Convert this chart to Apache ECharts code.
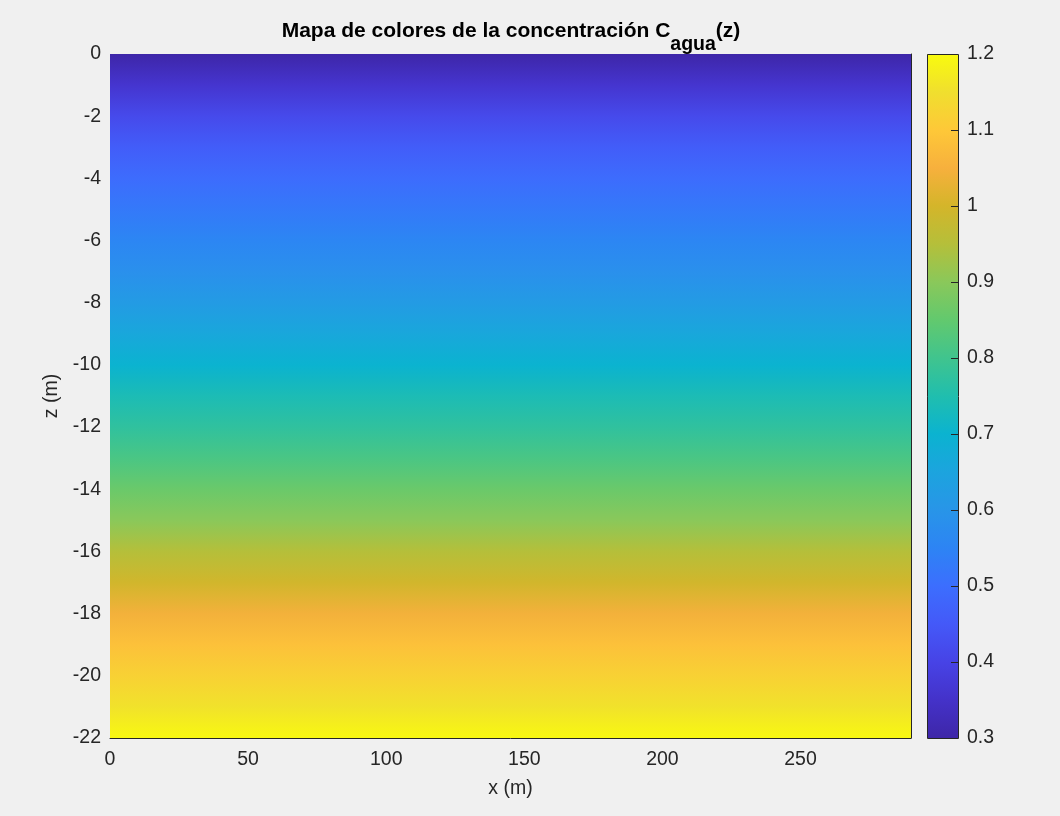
<!DOCTYPE html>
<html>
<head>
<meta charset="utf-8">
<script src="https://cdn.jsdelivr.net/npm/echarts@6/dist/echarts.min.js"></script>
<style>
html,body{margin:0;padding:0;background:#f0f0f0;}
#chart{width:1060px;height:816px;}
</style>
</head>
<body>
<div id="chart"></div>
<script>
// ---- data ----
const xRange = [0, 290];
const zRange = [-22, 0];
const xTickInterval = 50;
const zTickInterval = 2;
const cRange = [0.3, 1.2];
const cTickInterval = 0.1;
const cTicks = [0.4, 0.5, 0.6, 0.7, 0.8, 0.9, 1.0, 1.1];
// concentration profile (depth z in m -> C_agua)
const zDepth = [0, -1, -2, -3, -4, -5, -6, -7, -8, -9, -10, -10.5, -11, -12, -13, -14, -15, -16, -17, -18, -19, -20, -21, -22];
const cConc  = [0.30, 0.36, 0.415, 0.46, 0.495, 0.525, 0.555, 0.585, 0.62, 0.66, 0.70, 0.72, 0.74, 0.775, 0.815, 0.86, 0.90, 0.95, 0.995, 1.045, 1.085, 1.12, 1.155, 1.195];
// parula-like colormap, evenly spaced from cRange[0] to cRange[1]
const cmap = ['#3E26A8','#4432C9','#4743E6','#4459F8','#3C6EFE','#2D84F4','#2895E8','#1CA4DE','#0BB3D0','#20BEAE','#40C48E','#62C96E','#8AC85A','#B5BF3A','#D4B52A','#F7B03D','#FEC838','#F0DF2E','#F9FB0E'];

function hex2rgb(h){return [parseInt(h.substr(1,2),16),parseInt(h.substr(3,2),16),parseInt(h.substr(5,2),16)];}
function colorFor(v){
  let t = (v - cRange[0]) / (cRange[1] - cRange[0]);
  t = Math.max(0, Math.min(1, t));
  const p = t * (cmap.length - 1);
  const i = Math.min(cmap.length - 2, Math.floor(p));
  const f = p - i;
  const a = hex2rgb(cmap[i]), b = hex2rgb(cmap[i+1]);
  return 'rgb(' + a.map((x,k)=>Math.round(x + (b[k]-x)*f)).join(',') + ')';
}

const FONT = '"Liberation Sans", Arial, Helvetica, sans-serif';
const FS = 19.5;
const INK = '#262626';
const chart = echarts.init(document.getElementById('chart'), null, {renderer:'canvas'});

const option = {
  backgroundColor: '#f0f0f0',
  animation: false,
  textStyle: {fontFamily: FONT},
  graphic: [{
    type: 'text', x: 511, y: 31, z: 10,
    style: {
      text: '{t|Mapa de colores de la concentración C}{s|agua}{t|(z)}',
      align: 'center', verticalAlign: 'middle',
      rich: {
        t: {fontFamily: FONT, fontSize: 21, fontWeight: 'bold', fill: '#000'},
        s: {fontFamily: FONT, fontSize: 19.5, fontWeight: 'bold', fill: '#000', padding: [28,0,0,0]}
      }
    }
  }],
  grid: [
    {left: 110, right: 149, top: 54, bottom: 78, show: false},
    {left: 927, right: 102, top: 54, bottom: 78, show: false}
  ],
  xAxis: [
    {gridIndex: 0, type: 'value', min: xRange[0], max: xRange[1], interval: xTickInterval,
     name: 'x (m)', nameLocation: 'middle', nameGap: 41,
     nameTextStyle: {fontSize: FS, color: INK, fontFamily: FONT},
     axisLine: {show: true, onZero: false, lineStyle: {color: INK, width: 1}},
     axisTick: {show: false}, splitLine: {show: false},
     axisLabel: {fontSize: FS, color: INK, margin: 12, fontFamily: FONT,
       showMaxLabel: false}},
    {gridIndex: 1, type: 'value', min: 0, max: 1, show: false}
  ],
  yAxis: [
    {gridIndex: 0, type: 'value', min: zRange[0], max: zRange[1], interval: zTickInterval,
     name: 'z (m)', nameLocation: 'middle', nameGap: 44,
     nameTextStyle: {fontSize: FS, color: INK, fontFamily: FONT},
     axisLine: {show: false}, axisTick: {show: false}, splitLine: {show: false},
     axisLabel: {fontSize: FS, color: INK, margin: 9, fontFamily: FONT}},
    {gridIndex: 0, type: 'value', min: zRange[0], max: zRange[1], position: 'right',
     axisLine: {show: true, lineStyle: {color: INK, width: 1}},
     axisTick: {show: false}, axisLabel: {show: false}, splitLine: {show: false}},
    {gridIndex: 1, type: 'value', min: cRange[0], max: cRange[1], interval: cTickInterval, position: 'right',
     axisLine: {show: false}, axisTick: {show: false}, splitLine: {show: false},
     axisLabel: {fontSize: FS, color: INK, margin: 9, fontFamily: FONT,
       formatter: v => String(Math.round(v * 10) / 10)}}
  ],
  series: [
    {
      type: 'custom', xAxisIndex: 0, yAxisIndex: 0, z: 1,
      data: [[xRange[0], zDepth[0], xRange[1], zDepth[zDepth.length - 1]]],
      renderItem: function (params, api) {
        const p0 = api.coord([api.value(0), api.value(1)]);
        const p1 = api.coord([api.value(2), api.value(3)]);
        const span = zDepth[0] - zDepth[zDepth.length - 1];
        const stops = zDepth.map((z, i) => ({offset: (zDepth[0] - z) / span, color: colorFor(cConc[i])}));
        return {
          type: 'rect',
          shape: {x: p0[0], y: p0[1], width: p1[0] - p0[0], height: p1[1] - p0[1]},
          style: {fill: new echarts.graphic.LinearGradient(0, 0, 0, 1, stops)}
        };
      }
    },
    {
      type: 'custom', xAxisIndex: 1, yAxisIndex: 2, z: 1,
      data: [[0, cRange[1], 1, cRange[0]]],
      renderItem: function (params, api) {
        const p0 = api.coord([api.value(0), api.value(1)]);
        const p1 = api.coord([api.value(2), api.value(3)]);
        const stops = cmap.map((c, i) => ({offset: 1 - i / (cmap.length - 1), color: c}));
        const children = [{
          type: 'rect',
          shape: {x: p0[0], y: p0[1], width: p1[0] - p0[0], height: p1[1] - p0[1]},
          style: {fill: new echarts.graphic.LinearGradient(0, 0, 0, 1, stops)}
        }];
        cTicks.forEach(v => {
          const p = api.coord([1, v]);
          const y = Math.round(p[1]) + 0.5;
          children.push({type: 'line', shape: {x1: p[0] - 7, y1: y, x2: p[0], y2: y},
            style: {stroke: INK, lineWidth: 1}});
        });
        children.push({
          type: 'rect',
          shape: {x: Math.round(p0[0]) + 0.5, y: Math.round(p0[1]) + 0.5,
                  width: Math.round(p1[0] - p0[0]), height: Math.round(p1[1] - p0[1])},
          style: {fill: null, stroke: INK, lineWidth: 1}
        });
        return {type: 'group', children: children};
      }
    }
  ]
};
chart.setOption(option);
</script>
</body>
</html>
